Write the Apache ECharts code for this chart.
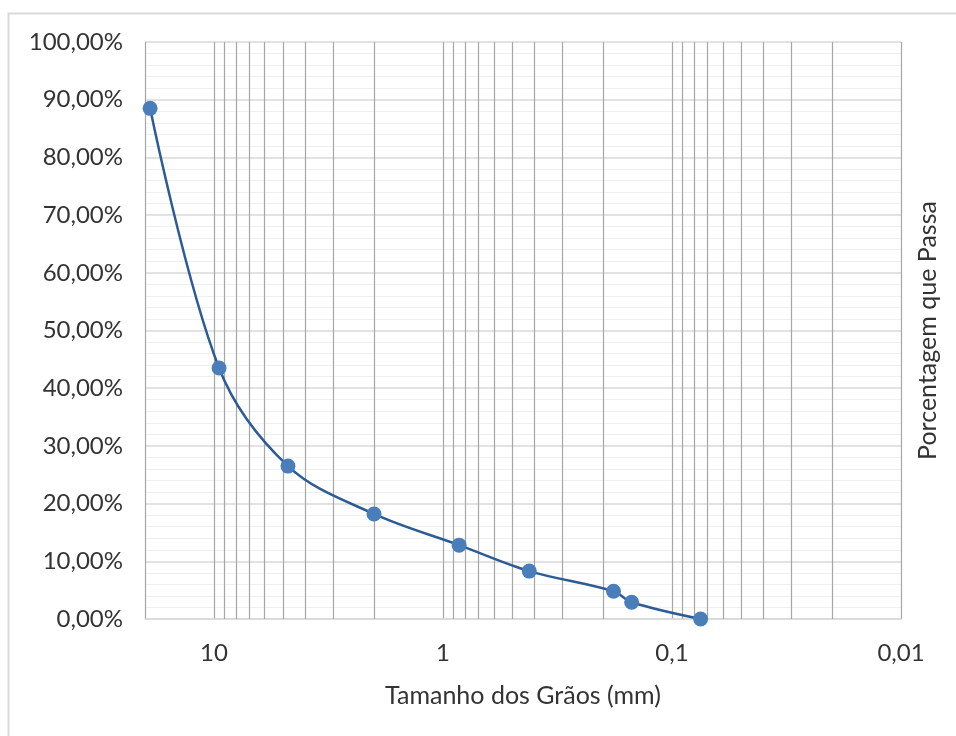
<!DOCTYPE html>
<html>
<head>
<meta charset="utf-8">
<script src="https://cdn.jsdelivr.net/npm/echarts@6/dist/echarts.min.js"></script>
<style>
  html, body { margin: 0; padding: 0; background: #fff; }
  #chart { width: 956px; height: 736px; }
</style>
</head>
<body>
<div id="chart"></div>
<script>
// abertura das peneiras (mm) e porcentagem que passa
const sieveSizes = [19, 9.5, 4.75, 2.0, 0.85, 0.42, 0.18, 0.15, 0.075]
const passing = [88.5, 43.5, 26.5, 18.2, 12.8, 8.3, 4.8, 2.9, 0]

// linhas de grade secundarias do eixo log (2..9 de cada decada)
const minorGrid = [
  0.02, 0.03, 0.04, 0.05, 0.06, 0.07, 0.08, 0.09,
  0.2, 0.3, 0.4, 0.5, 0.6, 0.7, 0.8, 0.9,
  2, 3, 4, 5, 6, 7, 8, 9
]

const xMin = 0.01
const xMax = 20

const fmtX = (v) => String(Number(v.toPrecision(6))).replace('.', ',')
const fmtY = (v) => v.toFixed(2).replace('.', ',') + '%'

const font = 'Lato, "Open Sans", sans-serif'
const txt = '#333333'

const chart = echarts.init(document.getElementById('chart'))

chart.setOption({
  animation: false,
  textStyle: { fontFamily: font },
  graphic: [{
    type: 'rect',
    shape: { x: 8.5, y: 13.5, width: 960, height: 740 },
    style: { fill: 'none', stroke: '#d9d9d9', lineWidth: 2 },
    silent: true
  }],
  grid: { left: 145, right: 55, top: 42, bottom: 117 },
  xAxis: {
    type: 'log',
    logBase: 10,
    min: xMin,
    max: xMax,
    inverse: true,
    name: 'Tamanho dos Grãos (mm)',
    nameLocation: 'middle',
    nameGap: 64,
    nameTextStyle: { fontSize: 25, color: txt, fontFamily: font },
    axisLine: { show: true, lineStyle: { color: '#d9d9d9', width: 1.5 } },
    axisTick: { show: false },
    axisLabel: {
      fontSize: 24, color: txt, margin: 22, fontFamily: font,
      showMaxLabel: false,
      formatter: fmtX
    },
    splitLine: { show: true, lineStyle: { color: '#a6a6a6', width: 1.2 } }
  },
  yAxis: [{
    type: 'value',
    min: 0,
    max: 100,
    interval: 10,
    axisLine: { show: false },
    axisTick: { show: false },
    axisLabel: { fontSize: 24, color: txt, margin: 22, fontFamily: font, formatter: fmtY },
    splitLine: { lineStyle: { color: '#d9d9d9', width: 1.5 } },
    minorTick: { show: false, splitNumber: 5 },
    minorSplitLine: { show: true, lineStyle: { color: '#f0f0f0', width: 1 } }
  }, {
    type: 'value',
    position: 'right',
    min: 0,
    max: 100,
    name: 'Porcentagem que Passa',
    nameLocation: 'middle',
    nameRotate: 90,
    nameGap: 14,
    nameTextStyle: { fontSize: 25, color: txt, fontFamily: font },
    axisLine: { show: false },
    axisTick: { show: false },
    axisLabel: { show: false },
    splitLine: { show: false }
  }],
  series: [{
    type: 'line',
    data: sieveSizes.map((s, i) => [s, passing[i]]),
    smooth: 0.35,
    symbol: 'circle',
    symbolSize: 15,
    z: 5,
    lineStyle: { color: '#2c5b95', width: 2.5 },
    itemStyle: { color: '#4a7ebb' },
    markLine: {
      silent: true,
      symbol: 'none',
      label: { show: false },
      lineStyle: { color: '#a6a6a6', type: 'solid', width: 1.2 },
      data: minorGrid.map((v) => ({ xAxis: v }))
    }
  }]
})
</script>
</body>
</html>
